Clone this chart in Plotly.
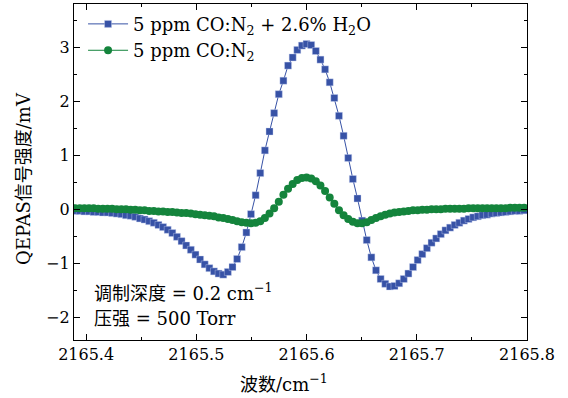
import plotly.graph_objects as go

# wavenumber grid (uniform scan)
x_start = 2165.39
x_step = 0.0042
n_pts = 98
wavenumber = [round(x_start + x_step * i, 5) for i in range(n_pts)]

# 5 ppm CO:N2 + 2.6% H2O  (mV)
signal_h2o = [
    -0.02, -0.02, -0.03, -0.03, -0.04, -0.04, -0.05, -0.05, -0.06, -0.07,
    -0.08, -0.10, -0.11, -0.13, -0.16, -0.18, -0.21, -0.24, -0.28, -0.32,
    -0.37, -0.43, -0.50, -0.58, -0.66, -0.74, -0.83, -0.92, -1.01, -1.08,
    -1.14, -1.18, -1.20, -1.15, -1.06, -0.91, -0.69, -0.42, -0.08, 0.27,
    0.68, 1.10, 1.45, 1.79, 2.14, 2.39, 2.67, 2.82, 2.96, 3.04,
    3.07, 3.05, 2.94, 2.78, 2.60, 2.36, 2.07, 1.74, 1.37, 0.96,
    0.57, 0.21, -0.20, -0.56, -0.88, -1.12, -1.28, -1.37, -1.42, -1.41,
    -1.36, -1.28, -1.18, -1.06, -0.93, -0.82, -0.71, -0.61, -0.53, -0.45,
    -0.38, -0.33, -0.28, -0.24, -0.20, -0.17, -0.14, -0.12, -0.10, -0.09,
    -0.07, -0.06, -0.05, -0.04, -0.03, -0.02, -0.02, -0.01,
]

# 5 ppm CO:N2  (mV)
signal_dry = [
    0.03, 0.03, 0.03, 0.03, 0.03, 0.02, 0.02, 0.02, 0.02, 0.01,
    0.01, 0.01, 0.00, 0.00, -0.01, -0.01, -0.02, -0.02, -0.03, -0.03,
    -0.04, -0.04, -0.05, -0.06, -0.06, -0.07, -0.08, -0.09, -0.10, -0.11,
    -0.12, -0.14, -0.15, -0.17, -0.19, -0.21, -0.23, -0.24, -0.25, -0.24,
    -0.21, -0.15, -0.07, 0.03, 0.15, 0.28, 0.39, 0.48, 0.55, 0.59,
    0.60, 0.58, 0.53, 0.45, 0.35, 0.23, 0.11, -0.01, -0.10, -0.17,
    -0.22, -0.25, -0.25, -0.23, -0.19, -0.15, -0.12, -0.09, -0.07, -0.05,
    -0.04, -0.03, -0.02, -0.01, -0.01, 0.00, 0.00, 0.01, 0.01, 0.01,
    0.02, 0.02, 0.02, 0.02, 0.02, 0.03, 0.03, 0.03, 0.03, 0.03,
    0.03, 0.03, 0.03, 0.03, 0.04, 0.04, 0.04, 0.04,
]

blue = "#3752a6"
green = "#14843c"
serif = "DejaVu Serif, Noto Sans CJK SC, serif"

fig = go.Figure()
fig.add_trace(go.Scatter(
    x=wavenumber, y=signal_h2o, mode="lines+markers",
    name="5 ppm CO:N<sub>2</sub> + 2.6% H<sub>2</sub>O",
    line=dict(color=blue, width=1),
    marker=dict(symbol="square", size=7, color=blue,
                line=dict(color="rgba(200,210,240,0.8)", width=0.5)),
))
fig.add_trace(go.Scatter(
    x=wavenumber, y=signal_dry, mode="lines+markers",
    name="5 ppm CO:N<sub>2</sub>",
    line=dict(color=green, width=1),
    marker=dict(symbol="circle", size=8, color=green, line=dict(width=0)),
))

axis_common = dict(
    showline=True, linecolor="black", linewidth=1.2, mirror="allticks",
    ticks="inside", ticklen=6, tickwidth=1, tickcolor="black",
    showgrid=False, zeroline=False,
    tickfont=dict(family=serif, size=16, color="black"),
)

fig.update_xaxes(
    range=[2165.389, 2165.8], tick0=2165.4, dtick=0.1, tickformat=".1f",
    minor=dict(dtick=0.05, ticks="inside", ticklen=3, tickcolor="black", showgrid=False),
    **axis_common,
)
fig.update_yaxes(
    range=[-2.41, 3.81], tick0=0, dtick=1, tickformat="d",
    minor=dict(dtick=0.5, ticks="inside", ticklen=3, tickcolor="black", showgrid=False),
    **axis_common,
)

# axis titles
fig.add_annotation(x=0.4636, y=-0.128, xref="paper", yref="paper",
                   xanchor="center", yanchor="middle", showarrow=False,
                   text="波数/cm<sup>−1</sup>",
                   font=dict(family=serif, size=18, color="black"))
fig.add_annotation(x=-0.11, y=0.48, xref="paper", yref="paper",
                   xanchor="center", yanchor="middle", showarrow=False, textangle=-90,
                   text="QEPAS信号强度/mV",
                   font=dict(family=serif, size=18, color="black"))

# condition notes
fig.add_annotation(x=0.04, y=0.143, xref="paper", yref="paper", xanchor="left", yanchor="middle",
                   text="调制深度 = 0.2 cm<sup>−1</sup>", showarrow=False,
                   font=dict(family=serif, size=18, color="black"))
fig.add_annotation(x=0.04, y=0.065, xref="paper", yref="paper", xanchor="left", yanchor="middle",
                   text="压强 = 500 Torr", showarrow=False,
                   font=dict(family=serif, size=18, color="black"))

fig.update_layout(
    width=568, height=398,
    margin=dict(l=74, r=41, t=4, b=58),
    paper_bgcolor="white", plot_bgcolor="white",
    legend=dict(x=0.02, y=0.995, xanchor="left", yanchor="top",
                bgcolor="rgba(0,0,0,0)", font=dict(family=serif, size=18, color="black"),
                itemwidth=40, tracegroupgap=0),
    showlegend=True,
)

fig.write_html("out.html")
